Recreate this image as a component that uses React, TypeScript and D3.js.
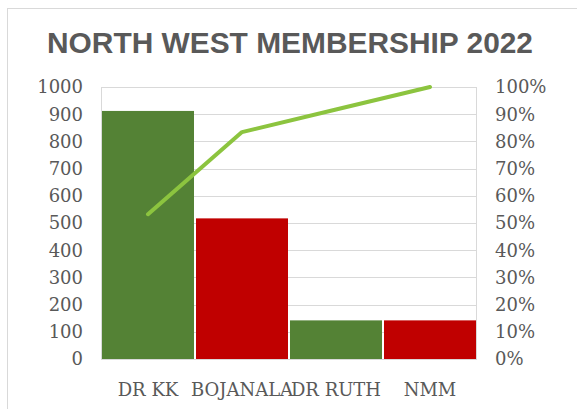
import React from "react";
import * as d3 from "d3";

const categories = ["DR KK", "BOJANALA", "DR RUTH", "NMM"];
const members = [912, 517, 142, 142];
const barColors = ["#548235", "#c00000", "#548235", "#c00000"];
const leftTicks = [0, 100, 200, 300, 400, 500, 600, 700, 800, 900, 1000];
const rightTicks = [0, 0.1, 0.2, 0.3, 0.4, 0.5, 0.6, 0.7, 0.8, 0.9, 1];
const title = "NORTH WEST MEMBERSHIP 2022";

export default function App() {
  const W = 577, H = 409;
  const plot = { left: 101, right: 477, top: 87, bottom: 359 };
  const x = d3.scaleBand<string>().domain(categories).range([plot.left, plot.right]).padding(0);
  const y = d3.scaleLinear().domain([0, 1000]).range([plot.bottom, plot.top]);
  const yr = d3.scaleLinear().domain([0, 1]).range([plot.bottom, plot.top]);
  const total = d3.sum(members);
  const cum = d3.cumsum(members).map((v) => v / total);
  const line = d3
    .line<number>()
    .x((_, i) => (x(categories[i]) as number) + x.bandwidth() / 2)
    .y((d) => yr(d));
  const tickColor = "#595959";
  const tickFont = "'DejaVu Serif', serif";

  return (
    <svg
      width={W}
      height={H}
      style={{ position: "absolute", left: 0, top: 0, background: "#fff" }}
    >
      <rect x={7.5} y={8.5} width={W + 20} height={H + 20} fill="#fff" stroke="#d9d9d9" strokeWidth={1} />
      <text
        x={290}
        y={53}
        textAnchor="middle"
        fontFamily="'Liberation Sans', Arial, sans-serif"
        fontWeight="bold"
        fontSize={29}
        fill="#595959"
        textLength={486}
        lengthAdjust="spacingAndGlyphs"
      >
        {title}
      </text>
      {leftTicks.map((t) => (
        <line key={"g" + t} x1={plot.left} x2={plot.right} y1={Math.round(y(t)) + 0.5} y2={Math.round(y(t)) + 0.5} stroke="#d9d9d9" strokeWidth={1} />
      ))}
      <line x1={plot.left + 0.5} x2={plot.left + 0.5} y1={plot.top} y2={plot.bottom} stroke="#d9d9d9" />
      <line x1={plot.right - 0.5} x2={plot.right - 0.5} y1={plot.top} y2={plot.bottom} stroke="#d9d9d9" />
      {categories.map((c, i) => (
        <rect
          key={c}
          x={(x(c) as number) + 1}
          y={y(members[i])}
          width={x.bandwidth() - 2}
          height={y(0) - y(members[i])}
          fill={barColors[i]}
        />
      ))}
      <line x1={plot.left} x2={plot.right} y1={plot.bottom + 0.5} y2={plot.bottom + 0.5} stroke="#d9d9d9" />
      <path d={line(cum) || ""} fill="none" stroke="#8cc43f" strokeWidth={4} strokeLinecap="round" strokeLinejoin="round" />
      {leftTicks.map((t) => (
        <text key={"l" + t} x={83} y={y(t)} dy="0.35em" textAnchor="end" fontFamily={tickFont} fontSize={18} fill={tickColor}>
          {t}
        </text>
      ))}
      {rightTicks.map((t) => (
        <text key={"r" + t} x={495} y={yr(t)} dy="0.35em" textAnchor="start" fontFamily={tickFont} fontSize={18} fill={tickColor}>
          {d3.format(".0%")(t)}
        </text>
      ))}
      {categories.map((c) => (
        <text key={"x" + c} x={(x(c) as number) + x.bandwidth() / 2} y={396} textAnchor="middle" fontFamily={tickFont} fontSize={18} fill={tickColor}>
          {c}
        </text>
      ))}
    </svg>
  );
}
